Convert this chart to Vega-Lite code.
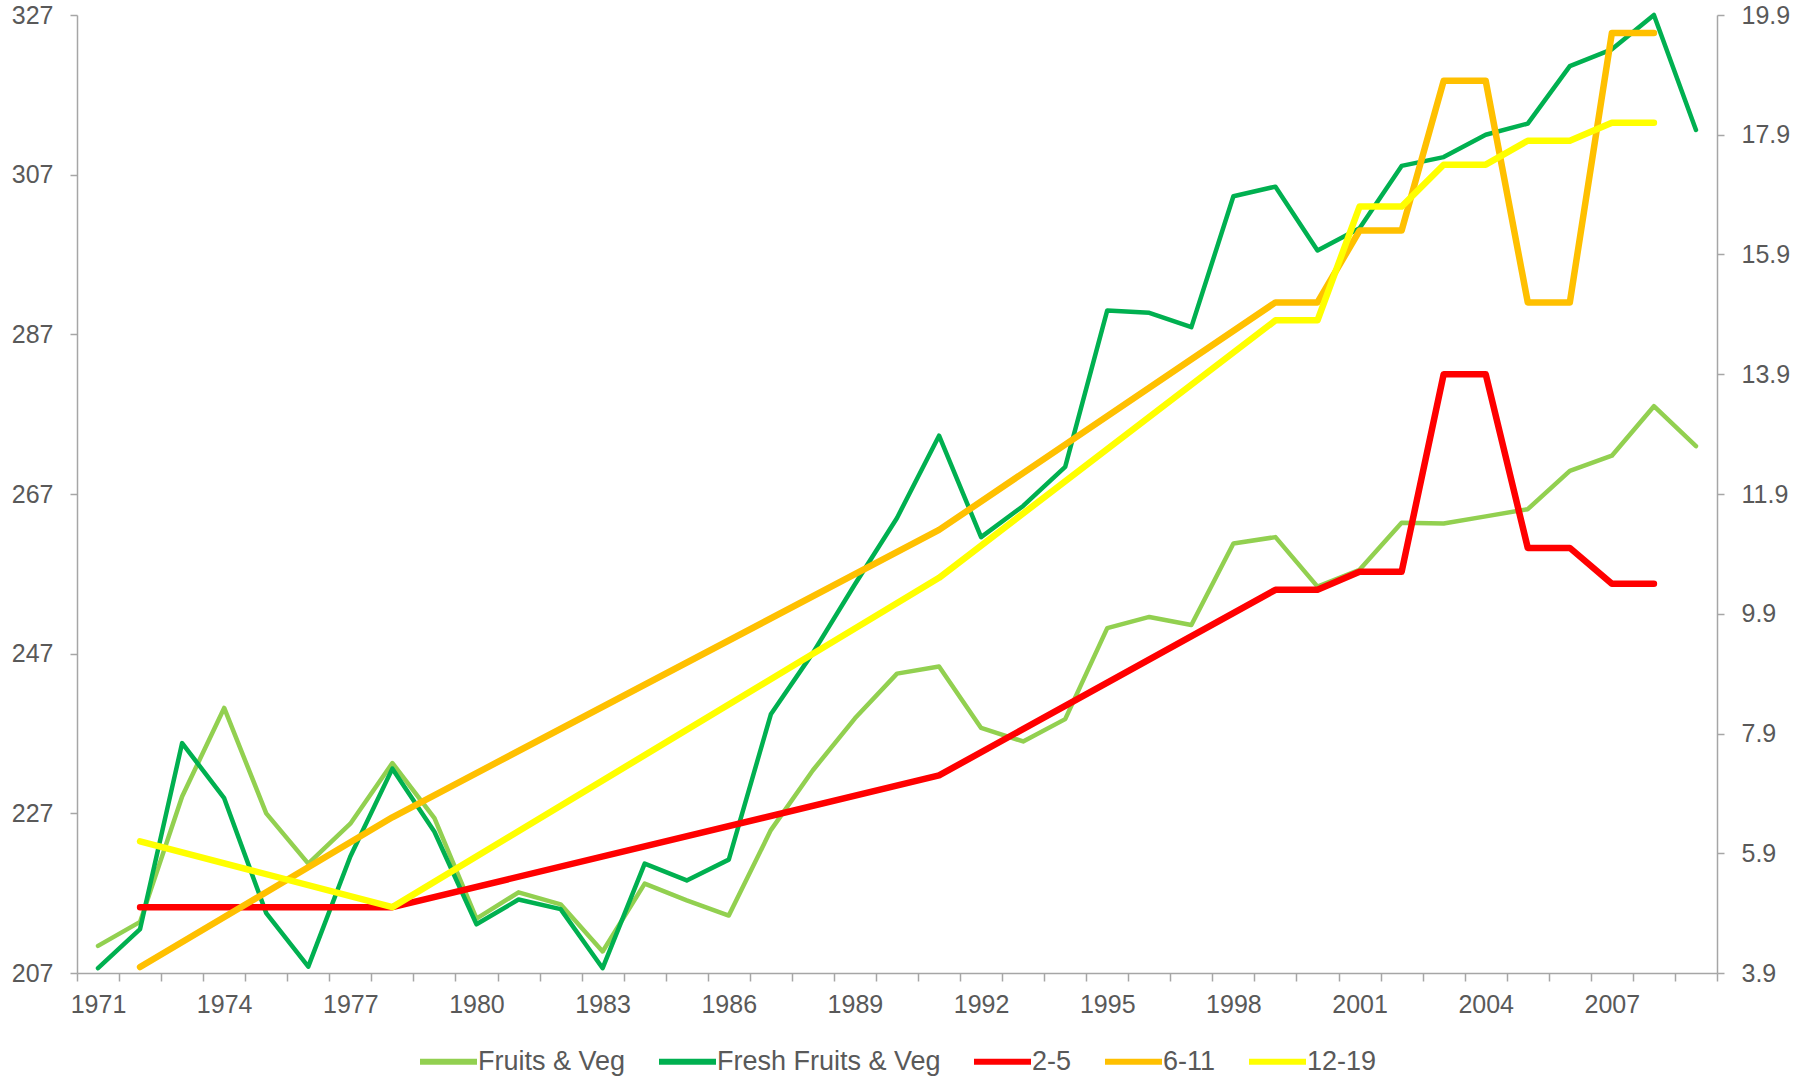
{
  "$schema": "https://vega.github.io/schema/vega-lite/v6.json",
  "width": 1640,
  "height": 958,
  "autosize": {"type": "none"},
  "padding": {"left": 77, "top": 15, "right": 89, "bottom": 108},
  "background": "white",
  "config": {
    "view": {"stroke": null},
    "font": "Liberation Sans",
    "axis": {
      "labelFont": "Liberation Sans",
      "labelFontSize": 25,
      "labelColor": "#595959",
      "domainColor": "#A6A6A6",
      "tickColor": "#A6A6A6",
      "domainWidth": 1.5,
      "tickWidth": 1.5,
      "grid": false,
      "title": null
    },
    "legend": {
      "layout": {"bottom": {"anchor": "middle"}}
    },
    "line": {"strokeCap": "round", "strokeJoin": "round"}
  },
  "data": {
    "values": [
      {"year": 1971, "series": "Fruits & Veg", "value": 210.4},
      {"year": 1972, "series": "Fruits & Veg", "value": 213.4},
      {"year": 1973, "series": "Fruits & Veg", "value": 229.1},
      {"year": 1974, "series": "Fruits & Veg", "value": 240.2},
      {"year": 1975, "series": "Fruits & Veg", "value": 227.0},
      {"year": 1976, "series": "Fruits & Veg", "value": 220.7},
      {"year": 1977, "series": "Fruits & Veg", "value": 225.7},
      {"year": 1978, "series": "Fruits & Veg", "value": 233.3},
      {"year": 1979, "series": "Fruits & Veg", "value": 226.4},
      {"year": 1980, "series": "Fruits & Veg", "value": 213.8},
      {"year": 1981, "series": "Fruits & Veg", "value": 217.1},
      {"year": 1982, "series": "Fruits & Veg", "value": 215.6},
      {"year": 1983, "series": "Fruits & Veg", "value": 209.7},
      {"year": 1984, "series": "Fruits & Veg", "value": 218.2},
      {"year": 1985, "series": "Fruits & Veg", "value": 216.1},
      {"year": 1986, "series": "Fruits & Veg", "value": 214.2},
      {"year": 1987, "series": "Fruits & Veg", "value": 224.9},
      {"year": 1988, "series": "Fruits & Veg", "value": 232.4},
      {"year": 1989, "series": "Fruits & Veg", "value": 238.9},
      {"year": 1990, "series": "Fruits & Veg", "value": 244.5},
      {"year": 1991, "series": "Fruits & Veg", "value": 245.4},
      {"year": 1992, "series": "Fruits & Veg", "value": 237.7},
      {"year": 1993, "series": "Fruits & Veg", "value": 236.0},
      {"year": 1994, "series": "Fruits & Veg", "value": 238.8},
      {"year": 1995, "series": "Fruits & Veg", "value": 250.2},
      {"year": 1996, "series": "Fruits & Veg", "value": 251.6},
      {"year": 1997, "series": "Fruits & Veg", "value": 250.6},
      {"year": 1998, "series": "Fruits & Veg", "value": 260.8},
      {"year": 1999, "series": "Fruits & Veg", "value": 261.6},
      {"year": 2000, "series": "Fruits & Veg", "value": 255.4},
      {"year": 2001, "series": "Fruits & Veg", "value": 257.5},
      {"year": 2002, "series": "Fruits & Veg", "value": 263.4},
      {"year": 2003, "series": "Fruits & Veg", "value": 263.3},
      {"year": 2004, "series": "Fruits & Veg", "value": 264.2},
      {"year": 2005, "series": "Fruits & Veg", "value": 265.1},
      {"year": 2006, "series": "Fruits & Veg", "value": 269.9},
      {"year": 2007, "series": "Fruits & Veg", "value": 271.8},
      {"year": 2008, "series": "Fruits & Veg", "value": 278.0},
      {"year": 2009, "series": "Fruits & Veg", "value": 273.0},
      {"year": 1971, "series": "Fresh Fruits & Veg", "value": 207.6},
      {"year": 1972, "series": "Fresh Fruits & Veg", "value": 212.5},
      {"year": 1973, "series": "Fresh Fruits & Veg", "value": 235.8},
      {"year": 1974, "series": "Fresh Fruits & Veg", "value": 228.9},
      {"year": 1975, "series": "Fresh Fruits & Veg", "value": 214.5},
      {"year": 1976, "series": "Fresh Fruits & Veg", "value": 207.8},
      {"year": 1977, "series": "Fresh Fruits & Veg", "value": 221.6},
      {"year": 1978, "series": "Fresh Fruits & Veg", "value": 232.6},
      {"year": 1979, "series": "Fresh Fruits & Veg", "value": 224.7},
      {"year": 1980, "series": "Fresh Fruits & Veg", "value": 213.1},
      {"year": 1981, "series": "Fresh Fruits & Veg", "value": 216.2},
      {"year": 1982, "series": "Fresh Fruits & Veg", "value": 215.0},
      {"year": 1983, "series": "Fresh Fruits & Veg", "value": 207.6},
      {"year": 1984, "series": "Fresh Fruits & Veg", "value": 220.7},
      {"year": 1985, "series": "Fresh Fruits & Veg", "value": 218.6},
      {"year": 1986, "series": "Fresh Fruits & Veg", "value": 221.2},
      {"year": 1987, "series": "Fresh Fruits & Veg", "value": 239.4},
      {"year": 1988, "series": "Fresh Fruits & Veg", "value": 247.1},
      {"year": 1989, "series": "Fresh Fruits & Veg", "value": 255.7},
      {"year": 1990, "series": "Fresh Fruits & Veg", "value": 264.0},
      {"year": 1991, "series": "Fresh Fruits & Veg", "value": 274.3},
      {"year": 1992, "series": "Fresh Fruits & Veg", "value": 261.6},
      {"year": 1993, "series": "Fresh Fruits & Veg", "value": 265.5},
      {"year": 1994, "series": "Fresh Fruits & Veg", "value": 270.4},
      {"year": 1995, "series": "Fresh Fruits & Veg", "value": 290.0},
      {"year": 1996, "series": "Fresh Fruits & Veg", "value": 289.7},
      {"year": 1997, "series": "Fresh Fruits & Veg", "value": 287.9},
      {"year": 1998, "series": "Fresh Fruits & Veg", "value": 304.3},
      {"year": 1999, "series": "Fresh Fruits & Veg", "value": 305.5},
      {"year": 2000, "series": "Fresh Fruits & Veg", "value": 297.5},
      {"year": 2001, "series": "Fresh Fruits & Veg", "value": 300.3},
      {"year": 2002, "series": "Fresh Fruits & Veg", "value": 308.1},
      {"year": 2003, "series": "Fresh Fruits & Veg", "value": 309.2},
      {"year": 2004, "series": "Fresh Fruits & Veg", "value": 312.0},
      {"year": 2005, "series": "Fresh Fruits & Veg", "value": 313.4},
      {"year": 2006, "series": "Fresh Fruits & Veg", "value": 320.6},
      {"year": 2007, "series": "Fresh Fruits & Veg", "value": 322.7},
      {"year": 2008, "series": "Fresh Fruits & Veg", "value": 327.0},
      {"year": 2009, "series": "Fresh Fruits & Veg", "value": 312.6},
      {"year": 1972, "series": "2-5", "value": 5.0},
      {"year": 1978, "series": "2-5", "value": 5.0},
      {"year": 1991, "series": "2-5", "value": 7.2},
      {"year": 1999, "series": "2-5", "value": 10.3},
      {"year": 2000, "series": "2-5", "value": 10.3},
      {"year": 2001, "series": "2-5", "value": 10.6},
      {"year": 2002, "series": "2-5", "value": 10.6},
      {"year": 2003, "series": "2-5", "value": 13.9},
      {"year": 2004, "series": "2-5", "value": 13.9},
      {"year": 2005, "series": "2-5", "value": 11.0},
      {"year": 2006, "series": "2-5", "value": 11.0},
      {"year": 2007, "series": "2-5", "value": 10.4},
      {"year": 2008, "series": "2-5", "value": 10.4},
      {"year": 1972, "series": "6-11", "value": 4.0},
      {"year": 1978, "series": "6-11", "value": 6.5},
      {"year": 1991, "series": "6-11", "value": 11.3},
      {"year": 1999, "series": "6-11", "value": 15.1},
      {"year": 2000, "series": "6-11", "value": 15.1},
      {"year": 2001, "series": "6-11", "value": 16.3},
      {"year": 2002, "series": "6-11", "value": 16.3},
      {"year": 2003, "series": "6-11", "value": 18.8},
      {"year": 2004, "series": "6-11", "value": 18.8},
      {"year": 2005, "series": "6-11", "value": 15.1},
      {"year": 2006, "series": "6-11", "value": 15.1},
      {"year": 2007, "series": "6-11", "value": 19.6},
      {"year": 2008, "series": "6-11", "value": 19.6},
      {"year": 1972, "series": "12-19", "value": 6.1},
      {"year": 1978, "series": "12-19", "value": 5.0},
      {"year": 1991, "series": "12-19", "value": 10.5},
      {"year": 1999, "series": "12-19", "value": 14.8},
      {"year": 2000, "series": "12-19", "value": 14.8},
      {"year": 2001, "series": "12-19", "value": 16.7},
      {"year": 2002, "series": "12-19", "value": 16.7},
      {"year": 2003, "series": "12-19", "value": 17.4},
      {"year": 2004, "series": "12-19", "value": 17.4},
      {"year": 2005, "series": "12-19", "value": 17.8},
      {"year": 2006, "series": "12-19", "value": 17.8},
      {"year": 2007, "series": "12-19", "value": 18.1},
      {"year": 2008, "series": "12-19", "value": 18.1}
    ]
  },
  "layer": [
    {
      "transform": [{"filter": "datum.series == 'Fruits & Veg' || datum.series == 'Fresh Fruits & Veg'"}],
      "mark": {"type": "line", "strokeWidth": 4.5},
      "encoding": {
        "x": {
          "field": "year", "type": "quantitative",
          "scale": {"domain": [1970.5, 2009.5], "nice": false, "zero": false},
          "axis": {
            "values": [1970.5,1971.5,1972.5,1973.5,1974.5,1975.5,1976.5,1977.5,1978.5,1979.5,1980.5,1981.5,1982.5,1983.5,1984.5,1985.5,1986.5,1987.5,1988.5,1989.5,1990.5,1991.5,1992.5,1993.5,1994.5,1995.5,1996.5,1997.5,1998.5,1999.5,2000.5,2001.5,2002.5,2003.5,2004.5,2005.5,2006.5,2007.5,2008.5,2009.5],
            "labelExpr": "((datum.value + 0.5 - 1971) % 3 == 0 && datum.value < 2008) ? format(datum.value + 0.5, 'd') : ''",
            "labelOffset": 21,
            "labelOverlap": false,
            "labelBound": false,
            "labelFlush": false,
            "tickSize": 8,
            "labelPadding": 11
          }
        },
        "y": {
          "field": "value", "type": "quantitative",
          "scale": {"domain": [207, 327], "nice": false, "zero": false},
          "axis": {
            "orient": "left",
            "values": [207, 227, 247, 267, 287, 307, 327],
            "tickSize": 7,
            "labelPadding": 17,
            "labelOverlap": false,
            "labelFlush": false
          }
        },
        "color": {
          "field": "series", "type": "nominal",
          "scale": {
            "domain": ["Fruits & Veg", "Fresh Fruits & Veg", "2-5", "6-11", "12-19"],
            "range": ["#92D050", "#00B050", "#FF0000", "#FFC000", "#FFFF00"]
          },
          "legend": {
            "orient": "bottom",
            "direction": "horizontal",
            "title": null,
            "symbolType": "stroke",
            "symbolSize": 3249,
            "symbolStrokeWidth": 6,
            "labelFont": "Liberation Sans",
            "labelFontSize": 27,
            "labelColor": "#595959",
            "labelLimit": 500,
            "labelOffset": -2,
            "columnPadding": 30,
            "offset": 13,
            "padding": 0
          }
        }
      }
    },
    {
      "layer": [
        {"transform": [{"filter": "datum.series == '2-5'"}], "mark": {"type": "line", "strokeWidth": 6.5}},
        {"transform": [{"filter": "datum.series == '6-11'"}], "mark": {"type": "line", "strokeWidth": 6.5}},
        {"transform": [{"filter": "datum.series == '12-19'"}], "mark": {"type": "line", "strokeWidth": 6.5}}
      ],
      "encoding": {
        "x": {
          "field": "year", "type": "quantitative",
          "scale": {"domain": [1970.5, 2009.5], "nice": false, "zero": false},
          "axis": {
            "values": [1970.5,1971.5,1972.5,1973.5,1974.5,1975.5,1976.5,1977.5,1978.5,1979.5,1980.5,1981.5,1982.5,1983.5,1984.5,1985.5,1986.5,1987.5,1988.5,1989.5,1990.5,1991.5,1992.5,1993.5,1994.5,1995.5,1996.5,1997.5,1998.5,1999.5,2000.5,2001.5,2002.5,2003.5,2004.5,2005.5,2006.5,2007.5,2008.5,2009.5],
            "labelExpr": "((datum.value + 0.5 - 1971) % 3 == 0 && datum.value < 2008) ? format(datum.value + 0.5, 'd') : ''",
            "labelOffset": 21,
            "labelOverlap": false,
            "labelBound": false,
            "labelFlush": false,
            "tickSize": 8,
            "labelPadding": 11
          }
        },
        "y": {
          "field": "value", "type": "quantitative",
          "scale": {"domain": [3.9, 19.9], "nice": false, "zero": false},
          "axis": {
            "orient": "right",
            "values": [3.9, 5.9, 7.9, 9.9, 11.9, 13.9, 15.9, 17.9, 19.9],
            "format": ".1f",
            "tickSize": 7,
            "labelPadding": 17,
            "labelOverlap": false,
            "labelFlush": false
          }
        },
        "color": {
          "field": "series", "type": "nominal",
          "scale": {
            "domain": ["Fruits & Veg", "Fresh Fruits & Veg", "2-5", "6-11", "12-19"],
            "range": ["#92D050", "#00B050", "#FF0000", "#FFC000", "#FFFF00"]
          }
        }
      }
    }
  ],
  "resolve": {"scale": {"y": "independent"}}
}
